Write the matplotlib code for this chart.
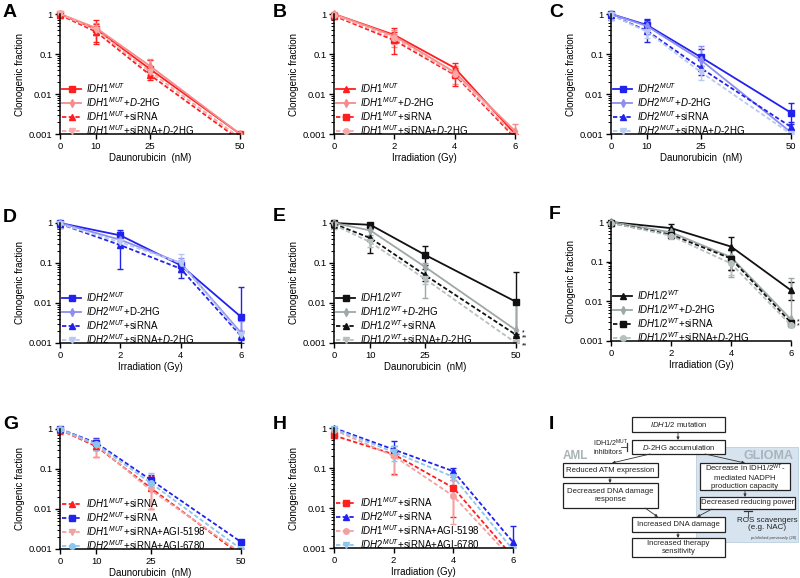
import numpy as np
import matplotlib.pyplot as plt
from matplotlib.transforms import Bbox, TransformedBbox
from matplotlib.patches import Rectangle

plt.rcParams['font.family'] = ['Liberation Sans', 'DejaVu Sans']
plt.rcParams['mathtext.fontset'] = 'custom'
plt.rcParams['mathtext.rm'] = 'Liberation Sans'
plt.rcParams['mathtext.it'] = 'Liberation Sans:italic'
plt.rcParams['mathtext.bf'] = 'Liberation Sans:bold'

W, H = 800, 578

dauno = [0, 10, 25, 50]
irrad = [0, 2, 4, 6]

# ---- data (clonogenic fraction), per panel: 4 series, mean / lower / upper ----
a_y = [[1, 0.42, 0.042, 0.001], [1, 0.45, 0.05, 0.001],
       [0.95, 0.36, 0.03, 0.0007], [1, 0.40, 0.036, 0.0008]]
a_lo = [[0.85, 0.2, 0.03, 0.001], [0.9, 0.3, 0.035, 0.001],
        [0.8, 0.18, 0.022, 0.0007], [0.9, 0.3, 0.028, 0.0008]]
a_hi = [[1.1, 0.72, 0.07, 0.001], [1.1, 0.6, 0.075, 0.001],
        [1.05, 0.55, 0.04, 0.0007], [1.1, 0.5, 0.05, 0.0008]]

b_y = [[1, 0.3, 0.045, 0.001], [1, 0.28, 0.035, 0.0012],
       [0.9, 0.22, 0.03, 0.0008], [0.95, 0.25, 0.032, 0.0009]]
b_lo = [[0.9, 0.2, 0.035, 0.001], [0.85, 0.15, 0.018, 0.0009],
        [0.75, 0.1, 0.016, 0.0008], [0.8, 0.18, 0.025, 0.0009]]
b_hi = [[1.05, 0.45, 0.06, 0.001], [1.1, 0.4, 0.05, 0.0018],
        [1.05, 0.35, 0.045, 0.0008], [1.05, 0.32, 0.04, 0.0009]]

c_y = [[1, 0.53, 0.083, 0.0034], [1, 0.5, 0.07, 0.0011],
       [0.95, 0.38, 0.044, 0.0015], [0.95, 0.36, 0.035, 0.001]]
c_lo = [[0.9, 0.4, 0.05, 0.0018], [0.85, 0.35, 0.04, 0.0009],
        [0.7, 0.2, 0.03, 0.0012], [0.7, 0.25, 0.022, 0.001]]
c_hi = [[1.05, 0.75, 0.13, 0.006], [1.1, 0.65, 0.16, 0.0013],
        [1.05, 0.7, 0.07, 0.002], [1.05, 0.5, 0.05, 0.001]]

d_y = [[1, 0.49, 0.088, 0.0045], [1, 0.38, 0.1, 0.0018],
       [0.95, 0.28, 0.072, 0.0015], [0.95, 0.33, 0.1, 0.0016]]
d_lo = [[0.9, 0.35, 0.06, 0.001], [0.85, 0.28, 0.07, 0.0014],
        [0.75, 0.07, 0.042, 0.0012], [0.75, 0.25, 0.06, 0.0013]]
d_hi = [[1.05, 0.65, 0.11, 0.025], [1.1, 0.6, 0.13, 0.0035],
        [1.05, 0.6, 0.1, 0.002], [1.05, 0.5, 0.17, 0.002]]

e_y = [[1, 0.9, 0.16, 0.0107], [1, 0.65, 0.08, 0.0021],
       [0.95, 0.42, 0.05, 0.0016], [0.9, 0.33, 0.04, 0.001]]
e_lo = [[0.9, 0.8, 0.09, 0.001], [0.9, 0.5, 0.013, 0.001],
        [0.75, 0.18, 0.035, 0.0015], [0.7, 0.25, 0.03, 0.001]]
e_hi = [[1.05, 1.0, 0.27, 0.06], [1.05, 0.8, 0.1, 0.01],
        [1.05, 0.7, 0.07, 0.0017], [1.0, 0.45, 0.05, 0.001]]
e_stars = ['', '*', '**', '**']

f_y = [[1, 0.7, 0.24, 0.019], [1, 0.55, 0.13, 0.0035],
       [0.95, 0.48, 0.12, 0.0029], [0.95, 0.45, 0.09, 0.0025]]
f_lo = [[0.9, 0.5, 0.06, 0.011], [0.85, 0.45, 0.04, 0.0022],
        [0.8, 0.4, 0.06, 0.0025], [0.8, 0.38, 0.045, 0.0022]]
f_hi = [[1.05, 0.9, 0.43, 0.03], [1.05, 0.7, 0.15, 0.038],
        [1.05, 0.55, 0.2, 0.0033], [1.0, 0.55, 0.12, 0.003]]
f_stars = ['', '*', '*', '']

g_y = [[0.95, 0.37, 0.034, 0.0007], [1, 0.45, 0.054, 0.0015],
       [0.95, 0.4, 0.03, 0.0008], [1, 0.42, 0.045, 0.001]]
g_lo = [[0.75, 0.2, 0.01, 0.0007], [0.9, 0.3, 0.04, 0.0015],
        [0.8, 0.2, 0.01, 0.0008], [0.9, 0.3, 0.03, 0.001]]
g_hi = [[1.05, 0.5, 0.065, 0.0007], [1.05, 0.6, 0.07, 0.0015],
        [1.05, 0.55, 0.05, 0.0008], [1.05, 0.5, 0.08, 0.001]]

h_y = [[0.65, 0.22, 0.032, 0.0006], [1, 0.29, 0.083, 0.0014],
       [0.9, 0.2, 0.02, 0.0005], [0.95, 0.25, 0.06, 0.0009]]
h_lo = [[0.55, 0.07, 0.006, 0.0006], [0.9, 0.2, 0.05, 0.0012],
        [0.75, 0.065, 0.004, 0.0005], [0.85, 0.15, 0.02, 0.0009]]
h_hi = [[0.8, 0.35, 0.06, 0.0006], [1.05, 0.48, 0.1, 0.0035],
        [1.05, 0.3, 0.05, 0.0005], [1.05, 0.35, 0.09, 0.0009]]

m1 = r'$\mathit{IDH1}^{\mathit{MUT}}$'
m2 = r'$\mathit{IDH2}^{\mathit{MUT}}$'
wt = r'$\mathit{IDH1/2}^{\mathit{WT}}$'
dd = r'+$\mathit{D}$-2HG'
a_lab = [m1, m1 + dd, m1 + '+siRNA', m1 + '+siRNA' + dd]
c_lab = [m2, m2 + dd, m2 + '+siRNA', m2 + '+siRNA' + dd]
d_lab = [m2, m2 + '+D-2HG', m2 + '+siRNA', m2 + '+siRNA' + dd]
e_lab = [wt, wt + dd, wt + '+siRNA', wt + '+siRNA' + dd]
g_lab = [m1 + '+siRNA', m2 + '+siRNA', m1 + '+siRNA+AGI-5198', m2 + '+siRNA+AGI-6780']

red = ['#ff1f1f', '#f58c8c', '#ff1f1f', '#f7a8a8']
blue = ['#2222ee', '#8e8ef2', '#2222ee', '#b9c9f4']
black = ['#111111', '#9ea8a8', '#111111', '#b7bfbf']
mix = ['#ff1f1f', '#2222ee', '#f5a0a0', '#8cc6ee']
solid = ['-', '-', (0, (2.4, 1.3)), (0, (2.4, 1.3))]
dashed = [(0, (2.4, 1.3))] * 4

fig = plt.figure(figsize=(8, 5.78), dpi=100)


def px_axes(l, t, r, b):
    return fig.add_axes([l / W, 1 - b / H, (r - l) / W, (b - t) / H])


def panel(box, x, ys, los, his, labels, colors, markers, styles, xlabel,
          letter, lpos, stars=None):
    ax = px_axes(*box)
    ax.set_yscale('log')
    clip = TransformedBbox(Bbox([[-0.06, -0.002], [1.06, 1.08]]), ax.transAxes)
    handles = []
    for y, lo, hi, c, mk, ls in zip(ys, los, his, colors, markers, styles):
        y = np.array(y)
        err = [y - np.array(lo), np.array(hi) - y]
        line, caps, bars = ax.errorbar(x, y, yerr=err, color=c, marker=mk, ms=4,
                                       lw=1.3, linestyle=ls, elinewidth=1,
                                       capsize=2.2, capthick=1)
        for art in [line, *caps, *bars]:
            art.set_clip_box(clip)
        handles.append(line)
    if stars:
        for y, s in zip(ys, stars):
            if s:
                ax.annotate(s, (x[-1], y[-1]), xytext=(4, -2), textcoords='offset points',
                            fontsize=5, va='center', ha='left', annotation_clip=False)
    ax.set_xlim(x[0], x[-1])
    ax.set_ylim(0.001, 1)
    ax.set_xticks(x)
    ax.set_xticklabels([str(v) for v in x])
    ax.set_yticks([0.001, 0.01, 0.1, 1])
    ax.set_yticklabels(['0.001', '0.01', '0.1', '1'])
    for s in ['top', 'right']:
        ax.spines[s].set_visible(False)
    for s in ['left', 'bottom']:
        ax.spines[s].set_linewidth(1.1)
    ax.tick_params(which='major', length=3.5, width=1, labelsize=6.8, pad=2)
    ax.tick_params(which='minor', length=2, width=0.7)
    ax.tick_params(axis='x', which='minor', bottom=False)
    ax.set_ylabel('Clonogenic fraction', fontsize=7, labelpad=3)
    ax.set_xlabel(xlabel, fontsize=7, labelpad=2)
    ax.legend(handles, labels, loc='lower left', bbox_to_anchor=(0.0, -0.04),
              frameon=False, fontsize=7, handlelength=2.0, handletextpad=0.5,
              labelspacing=0.02, borderaxespad=0, borderpad=0.2)
    fig.text(lpos[0] / W, 1 - lpos[1] / H, letter, fontsize=14, fontweight='bold',
             ha='left', va='top')
    return ax


dl = 'Daunorubicin  (nM)'
il = 'Irradiation (Gy)'
panel((60, 14, 240, 134), dauno, a_y, a_lo, a_hi, a_lab, red,
      ['s', 'd', '^', 'v'], solid, dl, 'A', (3, 4))
panel((334, 14, 515, 134), irrad, b_y, b_lo, b_hi, a_lab, red,
      ['^', 'd', 's', 'o'], solid, il, 'B', (273, 4))
panel((611, 14, 791, 134), dauno, c_y, c_lo, c_hi, c_lab, blue,
      ['s', 'd', '^', 'v'], solid, dl, 'C', (549, 4))
panel((60, 223, 241, 343), irrad, d_y, d_lo, d_hi, d_lab, blue,
      ['s', 'd', '^', 'v'], solid, il, 'D', (3, 209))
panel((334, 223, 516, 343), dauno, e_y, e_lo, e_hi, e_lab, black,
      ['s', 'd', '^', 'v'], solid, dl, 'E', (273, 208), e_stars)
panel((611, 222, 791, 341), irrad, f_y, f_lo, f_hi,
      [wt, wt + dd, wt + '+siRNA', wt + '+siRNA' + dd], black,
      ['^', 'd', 's', 'o'], solid, il, 'F', (549, 206), f_stars)
panel((60, 429, 241, 549), dauno, g_y, g_lo, g_hi, g_lab, mix,
      ['^', 's', 'v', 'o'], dashed, dl, 'G', (3, 416))
panel((334, 428, 513, 548), irrad, h_y, h_lo, h_hi, g_lab, mix,
      ['s', '^', 'o', 'v'], dashed, il, 'H', (273, 416))

# ---- panel I: flowchart ----
axi = px_axes(530, 390, 800, 578)
axi.set_xlim(530, 800)
axi.set_ylim(578, 390)
axi.axis('off')

axi.add_patch(Rectangle((696, 447), 102, 95, facecolor='#d7e4ef',
                        edgecolor='#bccfe0', lw=0.6))
axi.text(793, 456, 'GLIOMA', fontsize=9, fontweight='bold', color='#a9b4bb',
         ha='right', va='center')
axi.text(563, 456, 'AML', fontsize=8.5, fontweight='bold', color='#a9b4b4',
         ha='left', va='center')

boxes = [
    ((632, 417, 725, 432), r'$\mathit{IDH1/2}$ mutation'),
    ((632, 440, 725, 454), r'$\mathit{D}$-2HG accumulation'),
    ((563, 463, 658, 477), 'Reduced ATM expression'),
    ((563, 483, 658, 508), 'Decreased DNA damage\nresponse'),
    ((700, 463, 790, 490), 'Decrease in IDH1/2$^{\\mathrm{WT}}$-\nmediated NADPH\nproduction capacity'),
    ((700, 497, 795, 509), 'Decreased reducing power'),
    ((632, 517, 725, 532), 'Increased DNA damage'),
    ((632, 538, 725, 557), 'Increased therapy\nsensitivity'),
]
for (x0, y0, x1, y1), txt in boxes:
    axi.add_patch(Rectangle((x0, y0), x1 - x0, y1 - y0, facecolor='white',
                            edgecolor='#222222', lw=0.9))
    axi.text((x0 + x1) / 2, (y0 + y1) / 2, txt, fontsize=5.6, ha='center',
             va='center', linespacing=1.15, color='#222222')

arrows = [((678, 432), (678, 440)), ((650, 454), (612, 463)),
          ((705, 454), (745, 463)), ((610, 477), (610, 483)),
          ((645, 508), (658, 517)), ((745, 490), (745, 497)),
          ((712, 509), (697, 517)), ((678, 532), (678, 538))]
for p0, p1 in arrows:
    axi.annotate('', xy=p1, xytext=p0,
                 arrowprops=dict(arrowstyle='-|>', lw=0.6, color='#333333',
                                 mutation_scale=4, shrinkA=0, shrinkB=0))

axi.text(593, 447, 'IDH1/2$^{\\mathrm{MUT}}$\ninhibitors', fontsize=5.2,
         ha='left', va='center', linespacing=1.1, color='#222222')
axi.plot([621, 627], [447, 447], color='#333333', lw=0.6)
axi.plot([627, 627], [443, 451], color='#333333', lw=0.9)
axi.plot([748, 748], [511, 517], color='#333333', lw=0.6)
axi.plot([744, 752], [511, 511], color='#333333', lw=0.9)
axi.text(767, 524, 'ROS scavengers\n(e.g. NAC)', fontsize=5.8, ha='center',
         va='center', linespacing=1.15, color='#222222')
axi.text(796, 538, 'published previously (28)', fontsize=3, ha='right',
         va='center', color='#444444')
fig.text(549 / W, 1 - 416 / H, 'I', fontsize=14, fontweight='bold',
         ha='left', va='top')

fig.savefig('out.png', dpi=100)
